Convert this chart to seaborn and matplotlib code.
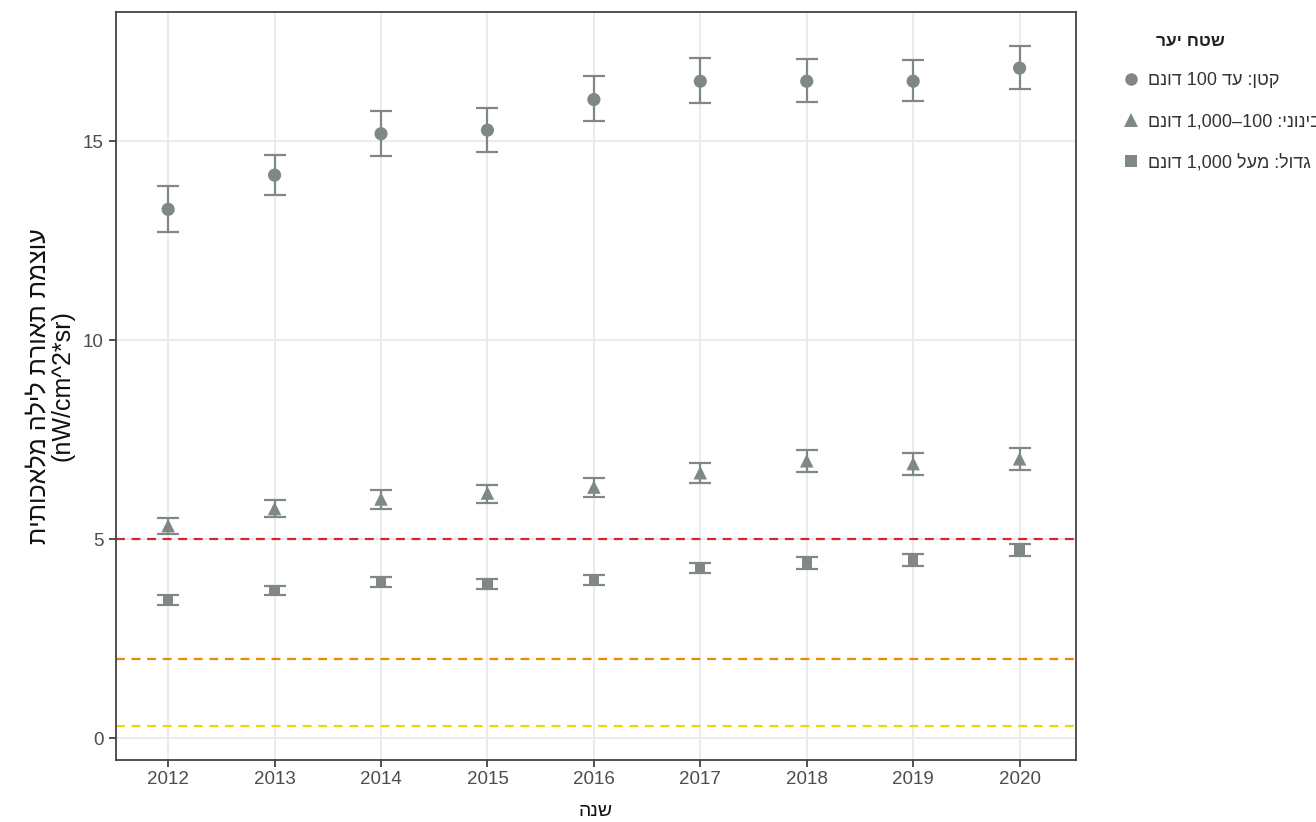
import re
import numpy as np
import pandas as pd
import matplotlib
matplotlib.use("Agg")
import matplotlib.pyplot as plt
from matplotlib.lines import Line2D
import seaborn as sns

# ---- data -------------------------------------------------------------
years = [2012, 2013, 2014, 2015, 2016, 2017, 2018, 2019, 2020]

small_mean = [13.29, 14.15, 15.19, 15.28, 16.05, 16.51, 16.51, 16.51, 16.84]
small_lo = [12.72, 13.65, 14.64, 14.73, 15.50, 15.97, 15.98, 16.01, 16.31]
small_hi = [13.88, 14.65, 15.76, 15.84, 16.63, 17.09, 17.06, 17.05, 17.39]

medium_mean = [5.34, 5.77, 6.01, 6.16, 6.31, 6.67, 6.97, 6.90, 7.02]
medium_lo = [5.12, 5.56, 5.77, 5.91, 6.07, 6.41, 6.70, 6.61, 6.73]
medium_hi = [5.54, 5.98, 6.23, 6.37, 6.55, 6.92, 7.23, 7.16, 7.28]

large_mean = [3.47, 3.71, 3.92, 3.87, 3.98, 4.28, 4.40, 4.47, 4.73]
large_lo = [3.35, 3.59, 3.79, 3.75, 3.85, 4.15, 4.25, 4.33, 4.58]
large_hi = [3.60, 3.83, 4.06, 3.99, 4.10, 4.40, 4.55, 4.62, 4.87]

series_labels = ["קטן: עד 100 דונם", "בינוני: 100–1,000 דונם", "גדול: מעל 1,000 דונם"]
legend_title = "שטח יער"
x_title = "שנה"
y_title = "עוצמת תאורת לילה מלאכותית"
y_unit = "(nW/cm^2*sr)"

thresholds = [5, 2, 0.3]
threshold_colors = ["#d7262b", "#ef8a00", "#ecd900"]


def visual(text):
    """Reorder a right-to-left string into left-to-right drawing order,
    keeping runs of digits in their natural order."""
    parts = re.findall(r"[0-9][0-9,]*|.", text)
    parts.reverse()
    mirror = {"(": ")", ")": "("}
    return "".join(mirror.get(p, p) for p in parts)


# ---- style ------------------------------------------------------------
sns.set_theme(style="whitegrid")
plt.rcParams["font.family"] = ["Liberation Sans", "DejaVu Sans"]

W, H = 1316, 822
fig = plt.figure(figsize=(W / 100, H / 100), dpi=100)
ax = fig.add_axes([116 / W, 62 / H, 960 / W, 748 / H])

point_color = "#7f8885"
grid_color = "#ebebeb"

for y, c in zip(thresholds, threshold_colors):
    ax.axhline(y, color=c, lw=1.6, ls=(0, (4, 3)), zorder=2)

groups = [
    (small_mean, small_lo, small_hi, "o", 90),
    (medium_mean, medium_lo, medium_hi, "^", 95),
    (large_mean, large_lo, large_hi, "s", 55),
]

for (mean, lo, hi, marker, size), label in zip(groups, series_labels):
    mean = np.asarray(mean)
    yerr = [mean - np.asarray(lo), np.asarray(hi) - mean]
    ax.errorbar(years, mean, yerr=yerr, fmt="none", ecolor=point_color,
                elinewidth=1.6, capsize=7.8, capthick=1.6, zorder=3)
    df = pd.DataFrame({"year": years, "value": mean})
    sns.scatterplot(data=df, x="year", y="value", marker=marker, s=size,
                    color=point_color, edgecolor="none", linewidth=0,
                    ax=ax, zorder=4, legend=False)

# ---- axes -------------------------------------------------------------
ax.set_xlim(2011.51, 2020.53)
ax.set_ylim(-0.55, 18.25)
ax.set_xticks(years)
ax.set_yticks([0, 5, 10, 15])
ax.grid(True, color=grid_color, lw=1.4)
ax.set_axisbelow(True)

for side in ax.spines.values():
    side.set_color("#444444")
    side.set_linewidth(1.3)

ax.tick_params(axis="both", which="major", length=5, width=1.2,
               color="#333333", labelcolor="#4d4d4d", labelsize=13.5,
               direction="out", pad=4)
ax.tick_params(axis="x", pad=3)
ax.tick_params(axis="y", left=True)
ax.tick_params(axis="x", bottom=True)

ax.set_xlabel(visual(x_title), fontsize=14, color="#111111", labelpad=11)
ax.set_ylabel(visual(y_title) + "\n" + y_unit, fontsize=18,
              color="#111111", labelpad=6, linespacing=0.98)

# ---- legend -----------------------------------------------------------
handles = [
    Line2D([], [], marker="o", ls="none", color=point_color, markersize=9,
           markeredgewidth=0),
    Line2D([], [], marker="^", ls="none", color=point_color, markersize=10,
           markeredgewidth=0),
    Line2D([], [], marker="s", ls="none", color=point_color, markersize=8,
           markeredgewidth=0),
]
leg = fig.legend(handles, [visual(s) for s in series_labels],
                 loc="upper left", bbox_to_anchor=(1122 / W, 1 - 72 / H),
                 frameon=False, fontsize=13, handlelength=1.0,
                 handletextpad=0.45, labelspacing=1.33, borderpad=0,
                 borderaxespad=0)
for t in leg.get_texts():
    t.set_color("#333333")

fig.text(1190 / W, 1 - 42 / H, visual(legend_title), fontsize=12.5,
         fontweight="bold", color="#222222", ha="center", va="center")

fig.savefig("out.png", dpi=100)
